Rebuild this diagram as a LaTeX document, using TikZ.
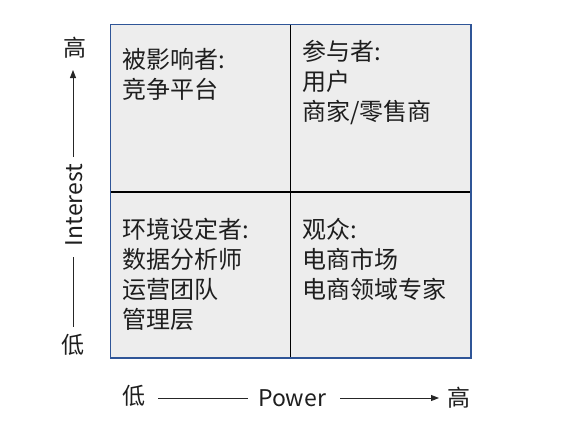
\documentclass[tikz,border=0pt]{standalone}
\usepackage{fontspec}
\setmainfont{Noto Sans CJK SC}
\usetikzlibrary{arrows.meta}
\definecolor{frameblue}{RGB}{47,85,151}
\definecolor{cellgray}{RGB}{237,237,237}
\definecolor{inkgray}{RGB}{30,30,30}
\tikzset{
  quadtext/.style={anchor=north west, inner sep=0pt, align=left, text=inkgray,
    font=\fontsize{24}{30}\selectfont},
  axislabel/.style={inner sep=0pt, text=inkgray, font=\fontsize{23}{26}\selectfont},
  axisline/.style={line width=0.9pt, draw=black!85},
  axisarrow/.style={axisline, -{Triangle[length=8pt,width=6pt]}},
}
\begin{document}
\begin{tikzpicture}[x=1pt,y=-1pt]
  \useasboundingbox (0,0) rectangle (576,432);
  % grid of four quadrants
  \fill[cellgray] (110.5,24.5) rectangle (471,358);
  \draw[line width=1.4pt] (290.5,24.5) -- (290.5,358);
  \draw[line width=1.4pt] (110.5,192) -- (471,192);
  \draw[frameblue, line width=1.4pt] (110.5,24.5) rectangle (471,358);

  % quadrant contents
  \node[quadtext] (tl) at (122,48) {被影响者:\\竞争平台};
  \node[quadtext] (tr) at (302,40) {参与者:\\用户\\商家/零售商};
  \node[quadtext] (bl) at (122,218) {环境设定者:\\数据分析师\\运营团队\\管理层};
  \node[quadtext] (br) at (302,218) {观众:\\电商市场\\电商领域专家};

  % vertical axis: Interest
  \node[axislabel] (yhi) at (75,48) {高};
  \node[axislabel] (ylo) at (73,345) {低};
  \node[axislabel, rotate=90] (ylab) at (74,205) {Interest};
  \coordinate (ytop) at (73,70);
  \coordinate (ymid) at (73,157);
  \coordinate (ylow) at (73,257);
  \coordinate (ybot) at (73,327);
  \draw[axisarrow] (ymid) -- (ytop);
  \draw[axisline] (ylow) -- (ybot);

  % horizontal axis: Power
  \node[axislabel] (xlo) at (134,396) {低};
  \node[axislabel] (xhi) at (459,398) {高};
  \node[axislabel] (xlab) at (292,398) {Power};
  \coordinate (xa) at (158,398);
  \coordinate (xb) at (248,398);
  \coordinate (xc) at (340,398);
  \coordinate (xd) at (439,398);
  \draw[axisline] (xa) -- (xb);
  \draw[axisarrow] (xc) -- (xd);
\end{tikzpicture}
\end{document}
